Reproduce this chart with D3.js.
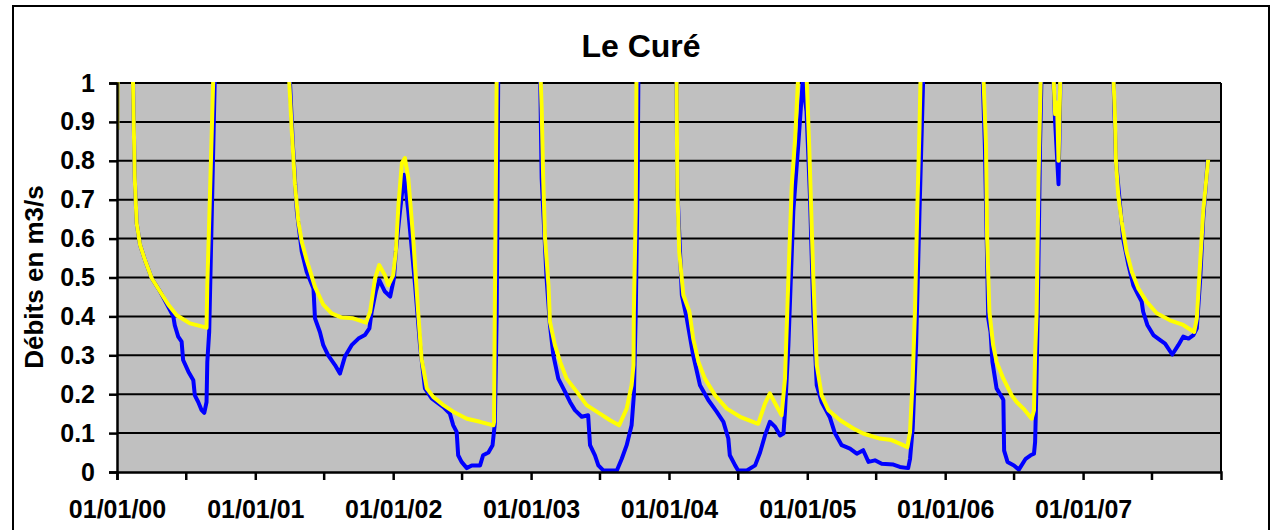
<!DOCTYPE html>
<html><head><meta charset="utf-8">
<script src="https://cdn.jsdelivr.net/npm/d3@7"></script>
<style>body{margin:0;background:#fff}svg{display:block}</style>
</head><body><svg id="c" width="1272" height="530"></svg>
<script>
const title = "Le Curé";
const yLabel = "Débits en m3/s";
const yTicks = [0, 0.1, 0.2, 0.3, 0.4, 0.5, 0.6, 0.7, 0.8, 0.9, 1];
const xDomain = ["2000-01-01", "2008-01-01"];

// Observed flow (blue) — values above 1 are off the chart (clipped)
const observed = [
["2000-01-02",0.88],["2000-01-04",1.3],["2000-01-22",2.0],["2000-02-12",1.02],["2000-02-17",0.755],["2000-02-22",0.64],["2000-03-02",0.584],["2000-03-15",0.545],["2000-04-02",0.498],["2000-04-24",0.464],["2000-05-02",0.45],["2000-05-29",0.40],["2000-06-02",0.377],["2000-06-11",0.348],["2000-06-20",0.335],["2000-06-24",0.288],["2000-07-08",0.258],["2000-07-21",0.236],["2000-07-25",0.197],["2000-08-03",0.18],["2000-08-12",0.159],["2000-08-19",0.152],["2000-08-25",0.18],["2000-08-27",0.283],["2000-09-01",0.36],["2000-09-08",0.67],["2000-09-16",1.02],["2000-12-18",2.0],
["2001-04-02",1.02],["2001-04-10",0.85],["2001-04-21",0.67],["2001-05-04",0.567],["2001-05-17",0.515],["2001-06-04",0.472],["2001-06-08",0.395],["2001-06-21",0.36],["2001-06-30",0.326],["2001-07-13",0.30],["2001-07-31",0.275],["2001-08-13",0.253],["2001-08-26",0.296],["2001-09-13",0.326],["2001-10-01",0.343],["2001-10-18",0.352],["2001-10-30",0.369],["2001-11-05",0.412],["2001-11-16",0.464],["2001-11-25",0.494],["2001-12-10",0.464],["2001-12-24",0.451],
["2002-01-03",0.498],["2002-01-08",0.567],["2002-01-19",0.67],["2002-01-30",0.764],["2002-02-10",0.67],["2002-02-28",0.48],["2002-03-13",0.326],["2002-03-26",0.215],["2002-04-13",0.189],["2002-05-14",0.167],["2002-05-31",0.15],["2002-06-09",0.12],["2002-06-18",0.103],["2002-06-22",0.043],["2002-07-01",0.026],["2002-07-15",0.01],["2002-07-28",0.017],["2002-08-19",0.017],["2002-08-27",0.043],["2002-09-10",0.05],["2002-09-21",0.069],["2002-09-27",0.124],["2002-10-02",0.41],["2002-10-06",1.02],["2002-11-27",2.0],
["2003-01-25",1.02],["2003-01-29",0.755],["2003-02-11",0.498],["2003-02-20",0.377],["2003-03-01",0.30],["2003-03-14",0.24],["2003-04-01",0.206],["2003-04-14",0.18],["2003-04-27",0.159],["2003-05-15",0.142],["2003-06-01",0.146],["2003-06-06",0.069],["2003-06-19",0.043],["2003-06-28",0.017],["2003-07-11",0.004],["2003-08-16",0.004],["2003-08-29",0.034],["2003-09-11",0.069],["2003-09-24",0.12],["2003-09-30",0.197],["2003-10-05",0.41],["2003-10-10",0.755],["2003-10-12",1.02],["2003-11-28",2.0],
["2004-01-21",1.02],["2004-01-23",0.73],["2004-02-04",0.455],["2004-02-17",0.395],["2004-03-05",0.30],["2004-03-23",0.223],["2004-04-14",0.185],["2004-05-06",0.155],["2004-05-24",0.129],["2004-06-06",0.086],["2004-06-10",0.043],["2004-06-24",0.017],["2004-07-02",0.004],["2004-07-25",0.004],["2004-08-16",0.017],["2004-08-29",0.05],["2004-09-11",0.094],["2004-09-24",0.129],["2004-10-08",0.116],["2004-10-21",0.094],["2004-10-30",0.099],["2004-11-03",0.155],["2004-11-12",0.326],["2004-11-25",0.67],["2004-12-08",0.84],["2004-12-20",1.005],["2004-12-30",0.927],
["2005-01-08",0.712],["2005-01-17",0.412],["2005-01-26",0.223],["2005-02-08",0.18],["2005-03-02",0.14],["2005-03-15",0.1],["2005-04-02",0.069],["2005-04-24",0.06],["2005-05-12",0.047],["2005-05-29",0.056],["2005-06-12",0.026],["2005-06-29",0.03],["2005-07-17",0.021],["2005-08-17",0.019],["2005-09-03",0.013],["2005-09-25",0.01],["2005-09-30",0.034],["2005-10-07",0.112],["2005-10-16",0.326],["2005-10-25",0.67],["2005-11-04",1.02],["2006-01-14",2.0],
["2006-04-10",1.02],["2006-04-16",0.84],["2006-04-25",0.395],["2006-05-01",0.36],["2006-05-06",0.283],["2006-05-17",0.215],["2006-06-02",0.189],["2006-06-04",0.185],["2006-06-06",0.055],["2006-06-15",0.026],["2006-07-02",0.017],["2006-07-15",0.006],["2006-08-02",0.034],["2006-08-15",0.043],["2006-08-24",0.047],["2006-08-27",0.077],["2006-08-29",0.155],["2006-09-03",0.41],["2006-09-09",0.84],["2006-09-13",1.02],["2006-09-25",1.5],["2006-10-11",1.1],["2006-10-19",0.9],["2006-10-28",0.74],["2006-11-01",0.95],["2006-11-06",1.3],["2007-01-06",2.0],
["2007-03-22",1.02],["2007-03-29",0.8],["2007-04-17",0.6],["2007-05-01",0.532],["2007-05-14",0.48],["2007-05-27",0.455],["2007-06-05",0.438],["2007-06-09",0.412],["2007-06-20",0.378],["2007-07-06",0.352],["2007-07-24",0.339],["2007-08-06",0.33],["2007-08-25",0.302],["2007-09-10",0.326],["2007-09-23",0.348],["2007-10-07",0.343],["2007-10-20",0.352],["2007-10-29",0.369],["2007-11-07",0.498],["2007-11-15",0.652],["2007-11-27",0.803]
];

// Simulated flow (yellow)
const simulated = [
["2000-01-02",0.88],["2000-01-04",1.3],["2000-01-22",2.0],["2000-02-12",1.02],["2000-02-17",0.755],["2000-02-22",0.64],["2000-03-02",0.584],["2000-03-15",0.545],["2000-04-02",0.498],["2000-04-24",0.464],["2000-05-16",0.43],["2000-06-07",0.403],["2000-07-12",0.382],["2000-08-25",0.371],["2000-08-27",0.48],["2000-09-03",0.71],["2000-09-12",1.02],["2000-12-18",2.0],
["2001-03-31",1.02],["2001-04-08",0.87],["2001-04-16",0.74],["2001-04-25",0.644],["2001-05-04",0.592],["2001-05-17",0.545],["2001-06-08",0.476],["2001-06-30",0.43],["2001-07-22",0.408],["2001-08-18",0.397],["2001-09-17",0.395],["2001-10-21",0.384],["2001-11-01",0.412],["2001-11-14",0.498],["2001-11-25",0.532],["2001-12-10",0.506],["2001-12-19",0.48],
["2002-01-01",0.506],["2002-01-08",0.567],["2002-01-15",0.687],["2002-01-24",0.794],["2002-02-01",0.807],["2002-02-10",0.755],["2002-02-23",0.6],["2002-03-08",0.412],["2002-03-17",0.292],["2002-03-31",0.215],["2002-04-17",0.193],["2002-05-14",0.172],["2002-06-09",0.155],["2002-07-15",0.137],["2002-08-19",0.129],["2002-09-23",0.12],["2002-09-25",0.129],["2002-09-27",0.41],["2002-10-02",1.02],["2002-11-27",2.0],
["2003-01-26",1.02],["2003-01-29",0.936],["2003-02-02",0.755],["2003-02-07",0.6],["2003-02-16",0.48],["2003-02-20",0.386],["2003-03-05",0.326],["2003-03-19",0.283],["2003-04-05",0.24],["2003-05-02",0.206],["2003-05-28",0.172],["2003-07-02",0.15],["2003-07-29",0.133],["2003-08-22",0.12],["2003-09-11",0.163],["2003-09-24",0.223],["2003-09-29",0.275],["2003-09-30",0.41],["2003-10-05",0.67],["2003-10-07",1.02],["2003-11-28",2.0],
["2004-01-21",1.02],["2004-01-23",0.73],["2004-01-28",0.567],["2004-02-08",0.455],["2004-02-24",0.412],["2004-03-05",0.343],["2004-03-19",0.283],["2004-04-05",0.24],["2004-05-02",0.197],["2004-06-02",0.163],["2004-07-07",0.142],["2004-08-24",0.124],["2004-09-11",0.176],["2004-09-24",0.202],["2004-10-08",0.176],["2004-10-25",0.146],["2004-11-03",0.24],["2004-11-12",0.498],["2004-11-21",0.738],["2004-11-30",0.858],["2004-12-08",1.02],["2004-12-19",1.3],["2004-12-30",1.02],
["2005-01-06",0.84],["2005-01-17",0.498],["2005-01-26",0.275],["2005-02-08",0.197],["2005-02-26",0.159],["2005-03-29",0.133],["2005-05-03",0.112],["2005-05-29",0.099],["2005-07-12",0.086],["2005-08-12",0.082],["2005-09-03",0.073],["2005-09-23",0.064],["2005-09-30",0.103],["2005-10-07",0.24],["2005-10-13",0.412],["2005-10-19",0.67],["2005-10-25",0.884],["2005-10-28",1.02],["2006-01-14",2.0],
["2006-04-12",1.02],["2006-04-19",0.84],["2006-04-22",0.6],["2006-04-28",0.412],["2006-05-08",0.326],["2006-05-17",0.283],["2006-06-04",0.24],["2006-06-26",0.197],["2006-07-09",0.18],["2006-07-27",0.163],["2006-08-18",0.137],["2006-08-24",0.159],["2006-08-27",0.3],["2006-08-31",0.41],["2006-09-05",0.755],["2006-09-11",1.02],["2006-09-25",1.5],["2006-10-11",1.1],["2006-10-19",0.92],["2006-10-24",0.95],["2006-10-28",0.80],["2006-11-01",0.98],["2006-11-06",1.3],["2007-01-06",2.0],
["2007-03-22",1.02],["2007-03-26",0.927],["2007-03-29",0.798],["2007-04-04",0.712],["2007-04-13",0.644],["2007-04-26",0.567],["2007-05-10",0.515],["2007-05-27",0.472],["2007-06-18",0.438],["2007-07-15",0.408],["2007-08-19",0.39],["2007-09-23",0.378],["2007-10-22",0.36],["2007-10-29",0.395],["2007-11-07",0.541],["2007-11-15",0.67],["2007-11-28",0.803]
];

const FONT = "'Liberation Sans', Arial, Helvetica, sans-serif";
const svg = d3.select("#c");
const plot = {left: 117, top: 83, right: 1221, bottom: 472};
const parse = d3.timeParse("%Y-%m-%d");

const x = d3.scaleTime().domain(xDomain.map(parse)).range([plot.left, plot.right]);
const y = d3.scaleLinear().domain([0, 1]).range([plot.bottom, plot.top]);

// outer chart frame
svg.append("rect").attr("x", 13).attr("y", 6).attr("width", 1256).attr("height", 560)
  .attr("fill", "#fff").attr("stroke", "#000").attr("stroke-width", 2);

// plot area
svg.append("rect").attr("x", plot.left).attr("y", plot.top)
  .attr("width", plot.right - plot.left).attr("height", plot.bottom - plot.top)
  .attr("fill", "#c0c0c0");

// gridlines
svg.append("g").selectAll("line").data(yTicks.filter(d => d > 0)).join("line")
  .attr("x1", plot.left).attr("x2", plot.right)
  .attr("y1", d => y(d)).attr("y2", d => y(d))
  .attr("stroke", "#000").attr("stroke-width", 2);

// right border of plot
svg.append("line").attr("x1", plot.right).attr("x2", plot.right)
  .attr("y1", plot.top).attr("y2", plot.bottom).attr("stroke", "#000").attr("stroke-width", 2);

// clip
svg.append("clipPath").attr("id", "clip").append("rect")
  .attr("x", plot.left).attr("y", plot.top - 1)
  .attr("width", plot.right - plot.left).attr("height", plot.bottom - plot.top + 1);

const line = d3.line().x(d => x(parse(d[0]))).y(d => y(d[1]));
const lines = svg.append("g").attr("clip-path", "url(#clip)");
lines.append("path").datum(observed).attr("d", line)
  .attr("fill", "none").attr("stroke", "#0000ff").attr("stroke-width", 4).attr("stroke-linejoin", "round");
lines.append("path").datum(simulated).attr("d", line)
  .attr("fill", "none").attr("stroke", "#ffff00").attr("stroke-width", 4).attr("stroke-linejoin", "round");

// axes
const xTickValues = d3.timeMonth.every(6).range(parse(xDomain[0]), parse(xDomain[1]));
const yAxis = svg.append("g").attr("transform", `translate(${plot.left},0)`)
  .call(d3.axisLeft(y).tickValues(yTicks).tickSize(8).tickPadding(14)
    .tickFormat(d => String(+d.toFixed(1))));
const xAxis = svg.append("g").attr("transform", `translate(0,${plot.bottom})`)
  .call(d3.axisBottom(x).tickValues(xTickValues).tickSize(8)
    .tickFormat(d => d.getMonth() === 0 ? d3.timeFormat("%d/%m/%y")(d) : ""));

[yAxis, xAxis].forEach(g => {
  g.select(".domain").attr("stroke", "#000").attr("stroke-width", 2.5);
  g.selectAll(".tick line").attr("stroke", "#000").attr("stroke-width", 2.5);
  g.selectAll("text").attr("font-family", FONT).attr("font-size", 25)
    .attr("font-weight", "bold").attr("fill", "#000");
});
xAxis.selectAll("text").attr("y", 46).attr("dy", 0);

// title
svg.append("text").attr("x", 641).attr("y", 57).attr("text-anchor", "middle")
  .attr("font-family", FONT).attr("font-size", 32).attr("font-weight", "bold").text(title);

// y label
svg.append("text").attr("transform", "translate(43,277) rotate(-90)")
  .attr("text-anchor", "middle").attr("font-family", FONT).attr("font-size", 26)
  .attr("font-weight", "bold").text(yLabel);
</script></body></html>
